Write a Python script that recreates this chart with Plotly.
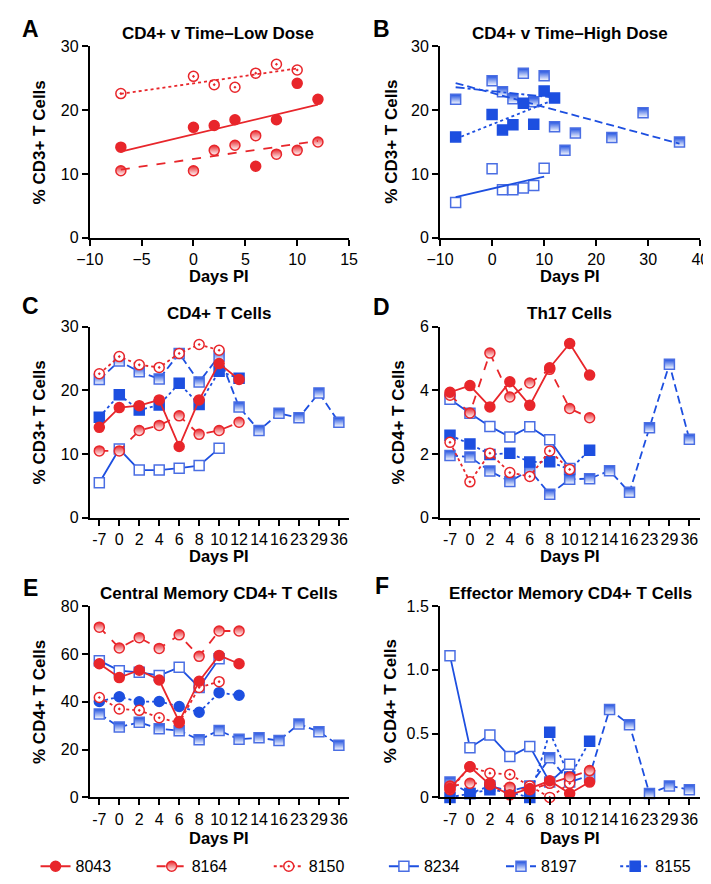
import numpy as np
import plotly.graph_objects as go

FONT = "Liberation Sans, Arial, Helvetica, sans-serif"
RED = "#E8262B"
BLUE = "#1D4FE0"
BLUE_L = "#4A6EE3"
W, H = 711, 884

# ---------------- data ----------------
days = [-7, 0, 2, 4, 6, 8, 10, 12, 14, 16, 23, 29, 36]
day_labels = ["-7", "0", "2", "4", "6", "8", "10", "12", "14", "16", "23", "29", "36"]
animals = ["8043", "8164", "8150", "8234", "8197", "8155"]

# CD4+ T cells (% CD3+ T cells)  -- panels A, B, C
cd4_8043 = [14.2, 17.3, 17.6, 18.5, 11.2, 18.5, 24.2, 21.7]
cd4_8164 = [10.5, 10.5, 13.7, 14.5, 16.0, 13.1, 13.7, 15.0]
cd4_8150 = [22.6, 25.3, 24.0, 23.6, 25.8, 27.2, 26.3]
cd4_8234 = [5.5, 10.8, 7.5, 7.5, 7.8, 8.2, 10.9]
cd4_8197 = [21.7, 24.6, 22.9, 21.8, 25.8, 21.3, 25.4, 17.4, 13.7, 16.4, 15.7, 19.6, 15.0]
cd4_8155 = [15.8, 19.3, 16.9, 17.7, 21.1, 17.8, 23.0, 21.9]

# Th17 cells (% CD4+ T cells) -- panel D
th17_8043 = [3.94, 4.15, 3.48, 4.27, 3.53, 4.71, 5.47, 4.48]
th17_8164 = [3.85, 3.29, 5.17, 3.79, 4.23, 4.66, 3.43, 3.14]
th17_8150 = [2.37, 1.13, 2.03, 1.42, 1.30, 2.10, 1.52]
th17_8234 = [3.72, 3.28, 2.87, 2.54, 2.86, 2.45, 1.55]
th17_8197 = [1.96, 1.91, 1.47, 1.14, 1.50, 0.74, 1.21, 1.23, 1.48, 0.80, 2.83, 4.82, 2.47]
th17_8155 = [2.59, 2.32, 1.99, 2.03, 1.75, 1.76, 1.52, 2.12]

# Central memory CD4+ T cells (% CD4+) -- panel E
cm_8043 = [55.9, 50.1, 53.2, 49.1, 31.7, 48.6, 59.4, 55.9]
cm_8164 = [71.2, 62.5, 66.8, 62.3, 68.0, 59.0, 69.6, 69.6]
cm_8150 = [41.8, 37.0, 36.4, 33.3, 31.2, 46.0, 48.4]
cm_8234 = [57.2, 53.0, 52.3, 51.0, 54.4, 46.0, 58.0]
cm_8197 = [34.9, 29.4, 31.4, 28.7, 27.9, 24.1, 28.0, 24.3, 24.9, 23.8, 30.7, 27.5, 21.8]
cm_8155 = [40.1, 42.1, 40.0, 40.1, 38.0, 35.6, 43.8, 42.7]

# Effector memory CD4+ T cells (% CD4+) -- panel F
em_8043 = [0.07, 0.24, 0.10, 0.02, 0.07, 0.13, 0.03, 0.12]
em_8164 = [0.09, 0.11, 0.11, 0.08, 0.06, 0.11, 0.16, 0.21]
em_8150 = [0.06, 0.24, 0.19, 0.18, 0.09, 0.00, 0.11]
em_8234 = [1.11, 0.39, 0.49, 0.32, 0.40, 0.12, 0.26]
em_8197 = [0.12, 0.03, 0.09, 0.05, 0.09, 0.31, 0.12, 0.17, 0.69, 0.57, 0.03, 0.09, 0.06]
em_8155 = [0.00, 0.03, 0.06, 0.04, 0.00, 0.51, 0.16, 0.44]

cd4 = dict(zip(animals, [cd4_8043, cd4_8164, cd4_8150, cd4_8234, cd4_8197, cd4_8155]))
th17 = dict(zip(animals, [th17_8043, th17_8164, th17_8150, th17_8234, th17_8197, th17_8155]))
cm = dict(zip(animals, [cm_8043, cm_8164, cm_8150, cm_8234, cm_8197, cm_8155]))
em = dict(zip(animals, [em_8043, em_8164, em_8150, em_8234, em_8197, em_8155]))

# ---------------- styles ----------------
styles = {
    "8043": dict(line=RED, dash="solid", symbol="circle", fill=RED, mline=RED, half=False),
    "8164": dict(line=RED, dash="dash", symbol="circle", fill=RED, mline=RED, half=True),
    "8150": dict(line=RED, dash="dot", symbol="circle-dot", fill="white", mline=RED, half=False),
    "8234": dict(line=BLUE, dash="solid", symbol="square", fill="white", mline=BLUE_L, half=False),
    "8197": dict(line=BLUE, dash="8px,4px", symbol="square", fill=BLUE, mline=BLUE_L, half=True),
    "8155": dict(line=BLUE, dash="dot", symbol="square", fill=BLUE, mline=BLUE, half=False),
}


def marker(st, symbol=None):
    m = dict(symbol=symbol or st["symbol"], size=10, color=st["fill"],
             line=dict(color=st["mline"], width=1.5))
    if st["half"]:
        m["gradient"] = dict(type="vertical", color="white")
    return m


fig = go.Figure()


def axes_ids(p):
    return ("x" if p == 1 else f"x{p}", "y" if p == 1 else f"y{p}")


# Panels A and B: scatter + linear fits
def fit_line(xs, ys):
    k, b = np.polyfit(xs, ys, 1)
    x0, x1 = min(xs), max(xs)
    return [x0, x1], [k * x0 + b, k * x1 + b]


for p, group in ((1, ["8043", "8164", "8150"]), (2, ["8234", "8197", "8155"])):
    xa, ya = axes_ids(p)
    for a in group:
        st = styles[a]
        ys = cd4[a]
        xs = days[:len(ys)]
        fig.add_trace(go.Scatter(x=xs, y=ys, mode="markers", xaxis=xa, yaxis=ya, showlegend=False,
                                 marker=marker(st), cliponaxis=False))
    for a in group:
        st = styles[a]
        ys = cd4[a]
        xs = days[:len(ys)]
        lx, ly = fit_line(xs, ys)
        fig.add_trace(go.Scatter(x=lx, y=ly, mode="lines", xaxis=xa, yaxis=ya, showlegend=False,
                                 line=dict(color=st["line"], dash=st["dash"], width=1.8)))
        if a == "8197":
            lx2, ly2 = fit_line(xs[:8], ys[:8])
            fig.add_trace(go.Scatter(x=lx2, y=ly2, mode="lines", xaxis=xa, yaxis=ya, showlegend=False,
                                     line=dict(color=st["line"], dash="dashdot", width=1.8)))

# Panels C-F: time courses on categorical day axis
legend_ids = {a: ("legend" if i == 0 else f"legend{i + 1}") for i, a in enumerate(animals)}
for p, data in ((3, cd4), (4, th17), (5, cm), (6, em)):
    xa, ya = axes_ids(p)
    for a in ["8197", "8155", "8234", "8150", "8164", "8043"]:
        st = styles[a]
        ys = data[a]
        sym = "circle" if (p == 5 and a == "8155") else None
        fig.add_trace(go.Scatter(x=day_labels[:len(ys)], y=ys, mode="lines+markers", name=a,
                                 xaxis=xa, yaxis=ya, showlegend=(p == 3), legend=legend_ids[a],
                                 line=dict(color=st["line"], dash=st["dash"], width=1.8),
                                 marker=marker(st, sym), cliponaxis=False))

# ---------------- layout ----------------
XL = [70 / W, 338 / W]
XR = [432 / W, 701 / W]


def ydom(top, bottom):
    return [1 - bottom / H, 1 - top / H]


Y1 = ydom(31, 226)
Y2 = ydom(316.7, 511.7)
Y3 = ydom(601.7, 796.7)


def ax(domain, anchor, **kw):
    d = dict(domain=domain, anchor=anchor, showline=True, linecolor="black", linewidth=2,
             ticks="outside", ticklen=6, tickwidth=2, tickcolor="black", showgrid=False,
             zeroline=False, tickfont=dict(size=16, color="black", family=FONT))
    d.update(kw)
    return d


cat = dict(type="category", categoryorder="array", categoryarray=day_labels)
layout = dict(
    width=W, height=H, margin=dict(l=0, r=0, t=0, b=0),
    paper_bgcolor="white", plot_bgcolor="white",
    font=dict(family=FONT, color="black"),
    xaxis=ax(XL, "y", range=[-10, 15], tickvals=[-10, -5, 0, 5, 10, 15]),
    yaxis=ax(Y1, "x", range=[0, 30], tickvals=[0, 10, 20, 30]),
    xaxis2=ax(XR, "y2", range=[-10, 40], tickvals=[-10, 0, 10, 20, 30, 40]),
    yaxis2=ax(Y1, "x2", range=[0, 30], tickvals=[0, 10, 20, 30]),
    xaxis3=ax(XL, "y3", range=[-0.48, 12.51], **cat),
    yaxis3=ax(Y2, "x3", range=[0, 30], tickvals=[0, 10, 20, 30]),
    xaxis4=ax(XR, "y4", range=[-0.5, 12.55], **cat),
    yaxis4=ax(Y2, "x4", range=[0, 6], tickvals=[0, 2, 4, 6]),
    xaxis5=ax(XL, "y5", range=[-0.48, 12.51], **cat),
    yaxis5=ax(Y3, "x5", range=[0, 80], tickvals=[0, 20, 40, 60, 80]),
    xaxis6=ax(XR, "y6", range=[-0.5, 12.55], **cat),
    yaxis6=ax(Y3, "x6", range=[0, 1.5], tickvals=[0, 0.5, 1.0, 1.5], ticktext=["0", "0.5", "1.0", "1.5"]),
)

# one legend per animal so each entry sits where the reference puts it
legend_text_x = [75, 195, 316, 435, 556, 674]
for i, a in enumerate(animals):
    key = legend_ids[a]
    layout[key] = dict(orientation="h", x=(legend_text_x[i] - 61) / W, y=1 - 867 / H,
                       xanchor="left", yanchor="middle", font=dict(size=16, family=FONT),
                       bgcolor="rgba(0,0,0,0)")


def ann(text, x, y, size, angle=0):
    return dict(text=f"<b>{text}</b>", x=x / W, y=1 - y / H, xref="paper", yref="paper",
                showarrow=False, font=dict(size=size, family=FONT, color="black"),
                textangle=angle, xanchor="center", yanchor="middle")


annotations = []
for t, x, y in (("A", 9, 13), ("B", 372, 13), ("C", 9, 296), ("D", 372, 297), ("E", 9, 583), ("F", 372, 581)):
    annotations.append(ann(t, x, y, 23))
for t, x, y in (("CD4+ v Time\u2013Low Dose", 203, 18), ("CD4+ v Time\u2013High Dose", 566, 18),
                ("CD4+ T Cells", 204, 303), ("Th17 Cells", 566, 303),
                ("Central Memory CD4+ T Cells", 204, 589), ("Effector Memory CD4+ T Cells", 567, 589)):
    annotations.append(ann(t, x, y, 17))
for x, y in ((204, 265), (566, 265), (204, 551), (566, 551), (204, 838), (566, 838)):
    annotations.append(ann("Days PI", x, y, 16.5))
for t, x, y in (("% CD3+ T Cells", 18, 128.5), ("% CD3+ T Cells", 381, 128.5),
                ("% CD3+ T Cells", 18, 414), ("% CD4+ T Cells", 389, 414),
                ("% CD4+ T Cells", 18, 699), ("% CD4+ T Cells", 381, 699)):
    annotations.append(ann(t, x, y, 17, angle=-90))
layout["annotations"] = annotations

fig.update_layout(**layout)
fig.write_html("out.html")
